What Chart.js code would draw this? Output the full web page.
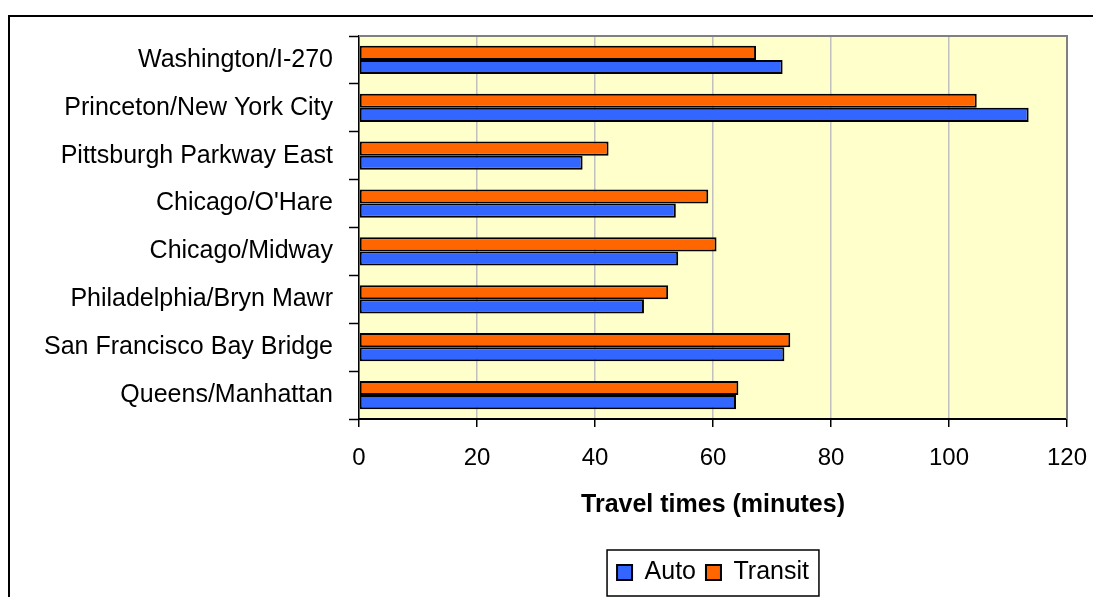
<!DOCTYPE html>
<html>
<head>
<meta charset="utf-8">
<script src="https://cdn.jsdelivr.net/npm/chart.js@4"></script>
<style>
  html, body { margin: 0; padding: 0; background: #fff; }
  #wrap { width: 1093px; height: 597px; position: relative; }
</style>
</head>
<body>
<div id="wrap"><canvas id="travelChart"></canvas></div>
<script>
// categories, top to bottom
const corridors = [
  'Washington/I-270',
  'Princeton/New York City',
  'Pittsburgh Parkway East',
  "Chicago/O'Hare",
  'Chicago/Midway',
  'Philadelphia/Bryn Mawr',
  'San Francisco Bay Bridge',
  'Queens/Manhattan'
];
// travel times in minutes
const autoTimes = [71.8, 113.5, 37.9, 53.7, 54.1, 48.3, 72.1, 63.9];
const transitTimes = [67.3, 104.7, 42.3, 59.2, 60.6, 52.4, 73.1, 64.3];
const xTicks = [0, 20, 40, 60, 80, 100, 120];

Chart.defaults.font.family = '"Liberation Sans", Arial, sans-serif';
Chart.defaults.color = '#000';

// yellow plot area, gray top/right edge, outer frame, legend frame
const chartDecor = {
  id: 'chartDecor',
  beforeDraw(chart) {
    const {ctx, chartArea: a} = chart;
    ctx.save();
    ctx.fillStyle = '#FFFFCC';
    ctx.fillRect(a.left, a.top, a.right - a.left, a.bottom - a.top);
    ctx.restore();
  },
  afterDraw(chart) {
    const {ctx, chartArea: a} = chart;
    ctx.save();
    ctx.strokeStyle = '#808080';
    ctx.lineWidth = 2;
    ctx.beginPath();
    ctx.moveTo(a.left, a.top);
    ctx.lineTo(a.right, a.top);
    ctx.lineTo(a.right, a.bottom);
    ctx.stroke();

    ctx.strokeStyle = '#000';
    ctx.lineWidth = 2;
    ctx.strokeRect(9, 16, 1200, 700);

    const boxes = chart.legend.legendHitBoxes;
    if (boxes && boxes.length) {
      const first = boxes[0];
      const last = boxes[boxes.length - 1];
      const l = Math.min(first.left, last.left) - 10;
      const r = Math.max(first.left + first.width, last.left + last.width) + 10;
      ctx.lineWidth = 1.5;
      ctx.strokeRect(l, first.top - 10, r - l, first.height + 21);
    }
    ctx.restore();
  }
};

new Chart(document.getElementById('travelChart').getContext('2d'), {
  type: 'bar',
  data: {
    labels: corridors,
    datasets: [
      {
        label: 'Transit',
        data: transitTimes,
        backgroundColor: '#FF6600',
        borderColor: '#000',
        borderWidth: 2,
        borderSkipped: false,
        barPercentage: 1.0,
        categoryPercentage: 0.59
      },
      {
        label: 'Auto',
        data: autoTimes,
        backgroundColor: '#3366FF',
        borderColor: '#000',
        borderWidth: 2,
        borderSkipped: false,
        barPercentage: 1.0,
        categoryPercentage: 0.59
      }
    ]
  },
  options: {
    indexAxis: 'y',
    responsive: true,
    maintainAspectRatio: false,
    animation: false,
    layout: { padding: { left: 0, right: 26, top: 36, bottom: 2 } },
    scales: {
      x: {
        min: 0,
        max: 120,
        afterBuildTicks: scale => { scale.ticks = xTicks.map(v => ({ value: v })); },
        afterFit: scale => {
          scale.height = 131;
          scale.paddingLeft = 0;
          scale.paddingRight = 0;
        },
        grid: {
          color: '#C0C0C0',
          lineWidth: 1.5,
          tickColor: '#000',
          tickWidth: 1.5,
          tickLength: 8
        },
        border: { color: '#000', width: 2 },
        ticks: { font: { size: 24 }, padding: 17, maxRotation: 0 },
        title: {
          display: true,
          text: 'Travel times (minutes)',
          font: { size: 25, weight: 'bold' },
          padding: { top: 4, bottom: 30 }
        }
      },
      y: {
        afterFit: scale => { scale.width = 359; },
        grid: {
          drawOnChartArea: false,
          tickColor: '#000',
          tickWidth: 1.5,
          tickLength: 10
        },
        border: { color: '#000', width: 1.5 },
        ticks: { font: { size: 25 }, padding: 16 }
      }
    },
    plugins: {
      legend: {
        position: 'bottom',
        fullSize: false,
        reverse: true,
        labels: {
          font: { size: 25 },
          boxWidth: 15,
          boxHeight: 15,
          padding: 10,
          useBorderRadius: false
        }
      },
      tooltip: { enabled: false }
    }
  },
  plugins: [chartDecor]
});
</script>
</body>
</html>
